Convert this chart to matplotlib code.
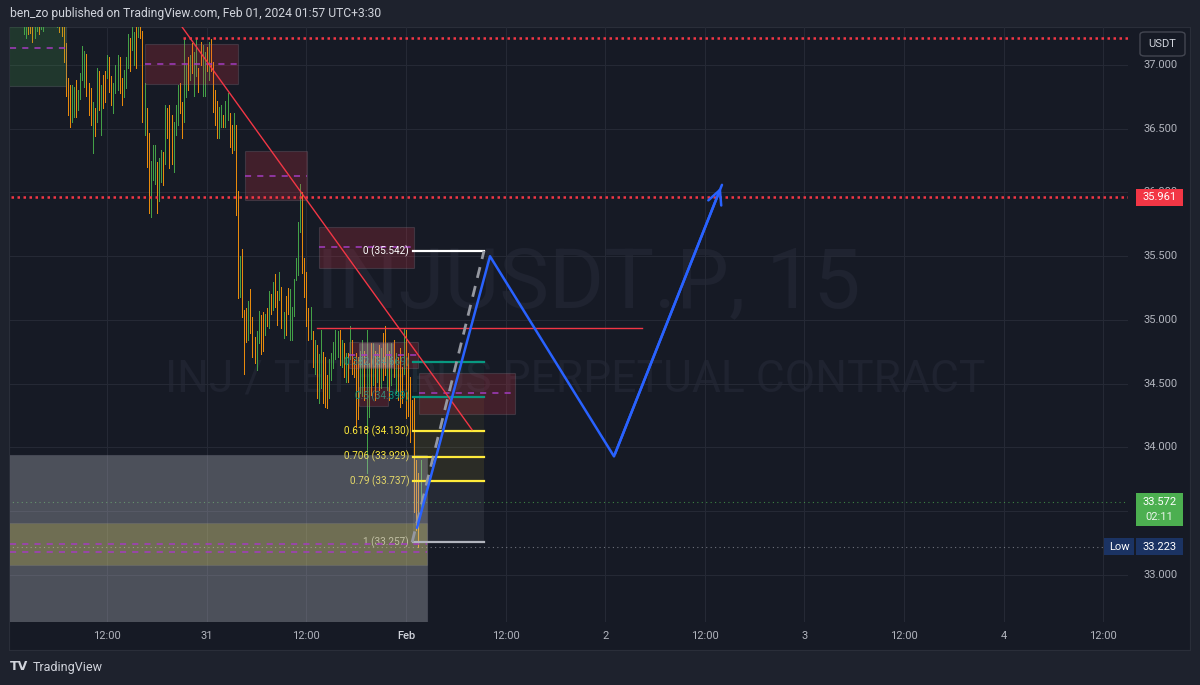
import matplotlib
matplotlib.use("Agg")
import matplotlib.pyplot as plt
import matplotlib.transforms as mtransforms
from matplotlib.patches import Rectangle, FancyBboxPatch

plt.rcParams['font.family'] = ['Roboto', 'DejaVu Sans']

# 15 minute bars, time in hours from Feb 01 00:00
bar_high = [37.50, 37.48, 37.52, 37.50, 37.46, 37.45, 37.47, 37.44, 37.42, 37.45,
            37.48, 37.46, 37.50, 37.47, 37.52, 37.55, 37.53, 37.50, 37.49, 37.51,
            37.48, 37.45, 37.40, 37.35, 37.17, 36.90, 36.84, 36.84, 36.83, 36.88,
            36.80, 36.94, 37.15, 37.11, 37.09, 36.86, 36.82, 36.71, 36.66, 36.98,
            36.95, 36.84, 36.92, 36.95, 37.08, 37.06, 36.91, 36.86, 37.00, 37.08,
            37.06, 36.90, 36.96, 37.06, 37.24, 37.21, 37.30, 37.26, 37.30, 37.38,
            37.36, 37.27, 36.86, 36.66, 36.47, 36.25, 36.37, 36.37, 36.24, 36.27,
            36.33, 36.32, 36.69, 36.66, 36.69, 36.61, 36.55, 36.69, 36.84, 36.86,
            36.71, 37.21, 37.00, 37.06, 37.08, 37.17, 37.10, 37.21, 36.98, 37.18,
            37.16, 37.10, 37.14, 37.18, 37.20, 37.02, 36.80, 36.72, 36.67, 36.69,
            36.61, 36.72, 36.78, 36.62, 36.53, 36.62, 36.53, 36.01, 35.50, 35.56,
            35.08, 35.09, 35.15, 35.24, 35.02, 34.87, 34.91, 35.07, 35.04, 35.06,
            35.05, 35.09, 35.23, 35.20, 35.30, 35.36, 35.23, 35.38, 35.26, 35.06,
            35.19, 35.25, 35.24, 35.10, 35.32, 35.49, 35.77, 36.07, 36.00, 35.49,
            35.38, 35.09, 35.10, 34.91, 34.84, 34.80, 34.73, 34.92, 34.75, 34.71,
            34.57, 34.69, 34.74, 34.83, 34.92, 34.91, 34.92, 34.84, 34.82, 34.74,
            34.74, 34.95, 34.84, 34.69, 34.74, 34.71, 34.76, 34.84, 34.76, 34.92,
            34.66, 34.82, 34.82, 34.76, 34.74, 34.80, 34.78, 34.90, 34.95, 34.82,
            34.76, 34.82, 34.84, 34.74, 34.71, 34.78, 34.63, 34.94, 34.92, 34.74,
            34.55, 34.37, 34.39, 33.90, 33.80, 33.90]
bar_low = [37.33, 37.32, 37.34, 37.31, 37.24, 37.21, 37.24, 37.25, 37.18, 37.21,
           37.27, 37.24, 37.28, 37.27, 37.33, 37.35, 37.34, 37.33, 37.32, 37.33,
           37.30, 37.26, 37.23, 37.02, 36.76, 36.61, 36.51, 36.55, 36.59, 36.59,
           36.65, 36.73, 36.88, 36.83, 36.76, 36.61, 36.53, 36.31, 36.44, 36.55,
           36.65, 36.45, 36.66, 36.71, 36.90, 36.79, 36.69, 36.62, 36.78, 36.80,
           36.78, 36.69, 36.75, 36.82, 36.98, 36.95, 37.12, 37.00, 36.98, 37.22,
           37.21, 36.55, 36.45, 36.20, 35.84, 35.81, 36.10, 36.07, 35.84, 35.93,
           36.08, 36.06, 36.22, 36.43, 36.19, 36.22, 36.16, 36.45, 36.53, 36.62,
           36.43, 36.55, 36.75, 36.80, 36.88, 36.94, 36.76, 36.91, 36.79, 37.00,
           36.76, 36.76, 36.95, 36.88, 36.95, 36.63, 36.53, 36.43, 36.43, 36.51,
           36.51, 36.51, 36.57, 36.36, 36.31, 36.33, 35.82, 35.17, 35.18, 35.02,
           34.58, 34.83, 34.84, 34.90, 34.71, 34.66, 34.61, 34.82, 34.73, 34.76,
           34.88, 34.95, 34.94, 35.05, 35.08, 35.10, 34.96, 35.16, 34.94, 34.86,
           34.88, 35.05, 34.84, 34.84, 35.03, 35.31, 35.35, 35.69, 35.37, 35.18,
           34.95, 34.84, 34.85, 34.63, 34.58, 34.39, 34.35, 34.47, 34.35, 34.32,
           34.31, 34.39, 34.53, 34.62, 34.69, 34.71, 34.65, 34.63, 34.55, 34.51,
           34.51, 34.69, 34.58, 34.55, 34.16, 34.22, 34.43, 34.40, 34.37, 33.80,
           34.24, 34.41, 34.49, 34.37, 34.51, 34.45, 34.47, 34.53, 34.57, 34.45,
           34.37, 34.49, 34.55, 34.43, 34.37, 34.32, 34.35, 34.58, 34.23, 34.25,
           34.04, 34.14, 33.49, 33.35, 33.22, 33.51]
bar_up = [1, 0, 1, 0, 1, 1, 0, 0, 0, 1, 1, 0, 1, 1, 0, 1, 0, 1, 0, 0,
          1, 0, 0, 0, 0, 0, 0, 1, 1, 0, 1, 1, 1, 1, 0, 0, 0, 1, 0, 1,
          0, 1, 0, 0, 1, 0, 0, 1, 1, 1, 0, 0, 1, 1, 1, 0, 1, 1, 0, 1,
          0, 0, 1, 0, 0, 1, 1, 1, 0, 1, 1, 0, 1, 0, 0, 0, 1, 1, 1, 0,
          0, 1, 1, 0, 1, 0, 1, 1, 0, 0, 1, 1, 0, 1, 0, 0, 0, 0, 1, 1,
          0, 1, 1, 0, 0, 1, 0, 0, 1, 0, 0, 0, 1, 0, 0, 0, 1, 1, 0, 0,
          1, 0, 1, 0, 1, 0, 0, 1, 0, 1, 0, 0, 1, 1, 1, 1, 1, 1, 0, 0,
          0, 0, 1, 0, 1, 0, 1, 1, 0, 0, 0, 1, 1, 1, 1, 1, 0, 1, 0, 1,
          0, 1, 0, 0, 0, 0, 1, 1, 0, 1, 1, 0, 1, 0, 1, 0, 1, 0, 0, 1,
          0, 1, 0, 1, 0, 0, 0, 1, 0, 0, 0, 0, 0, 0, 0, 1]
last_price = 33.572
low_price = 33.223
alert_price = 35.961

price_ticks = [33.0, 33.5, 34.0, 34.5, 35.0, 35.5, 36.0, 36.5, 37.0]
time_ticks = [-36, -24, -12, 0, 12, 24, 36, 48, 60, 72, 84]
time_labels = ["12:00", "31", "12:00", "Feb", "12:00", "2", "12:00", "3", "12:00", "4", "12:00"]

# zones drawn on the chart: start, end (hours), top, bottom, kind, midline
box_t0 = [-60, -31.45, -19.40, -10.48, -6.87, -5.66, 1.57, -5.66, -60, -60]
box_t1 = [-40.96, -20.24, -11.93, 0.96, 1.45, -2.17, 13.13, -1.57, 2.53, 2.53]
box_top = [37.43, 37.165, 36.325, 35.73, 34.827, 34.475, 34.584, 34.82, 33.941, 33.408]
box_bot = [36.835, 36.85, 35.94, 35.41, 34.624, 34.325, 34.263, 34.63, 32.42, 33.078]
box_kind = ["green", "red", "red", "red", "red", "red", "red", "grey", "grey", "olive"]
box_mid = [1, 1, 1, 1, 1, 0, 1, 0, 1, 1]
box_under_fib = [0, 0, 0, 1, 0, 0, 0, 0, 0, 0]

# fib retracement
fib_levels = ["0", "0.382", "0.5", "0.618", "0.706", "0.79", "1"]
fib_prices = [35.542, 34.669, 34.399, 34.130, 33.929, 33.737, 33.257]
fib_colors = ["#ffffff", "#089981", "#089981", "#ffeb3b", "#ffeb3b", "#ffeb3b", "#b2b5be"]
fib_t = [0.84, 9.40]

trend_t = [-27.0, 7.95]
trend_p = [37.30, 34.14]
level_t = [-10.72, 28.43]
level_p = 34.94
top_ray_t = -26.87
top_ray_p = 37.212
proj_t = [1.33, 10.12, 25.06, 38.07]
proj_p = [33.37, 35.50, 33.93, 36.06]

W, H = 1200, 685
BG = "#161a25"
GRID = "#252935"
TXT = "#b2b5be"

fig = plt.figure(figsize=(12, 6.85), dpi=100)
fig.patch.set_facecolor("#1e222d")

frame = fig.add_axes([9 / W, (H - 650) / H, 1181 / W, 623 / H])
frame.set_zorder(-2)
frame.set_facecolor(BG)
frame.set_xticks([])
frame.set_yticks([])
for s in frame.spines.values():
    s.set_color("#2a2e39")

ax = fig.add_axes([10 / W, (H - 622) / H, 1118 / W, 595 / H])
ax.set_facecolor("none")
ax.set_xlim(-47.71, 86.99)
ax.set_ylim(32.631, 37.298)
ax.set_xticks([])
ax.set_yticks([])
for s in ax.spines.values():
    s.set_visible(False)

tx = mtransforms.blended_transform_factory(ax.transData, ax.transAxes)
ty = mtransforms.blended_transform_factory(ax.transAxes, ax.transData)

# watermark (between the background frame and the chart)
wm1 = fig.text(588 / W, 1 - 284 / H, "INJUSDT.P, 15", ha="center", va="center",
               color="#1f2330", fontsize=60, zorder=-1)
wm2 = fig.text(575 / W, 1 - 380 / H, "INJ / TETHERUS PERPETUAL CONTRACT", ha="center",
               va="center", color="#1f2330", fontsize=30, zorder=-1)
fig.canvas.draw()
r = fig.canvas.get_renderer()
for t, target in [(wm1, 545), (wm2, 820)]:
    t.set_fontsize(t.get_fontsize() * target / t.get_window_extent(r).width)

# grid
for p in price_ticks:
    ax.axhline(p, color=GRID, lw=0.8, zorder=1)
for t in time_ticks:
    ax.axvline(t, color=GRID, lw=0.8, zorder=1)

# OHLC bars
bar_t = [(i - 188) * 0.25 for i in range(len(bar_high))]
ax.vlines(bar_t, bar_low, bar_high,
          colors=["#43a047" if u else "#e88a0c" for u in bar_up], lw=0.5,
          antialiased=False, zorder=2)

# fib zones, lines and labels
fills = [None, 0.05, 0.05, 0.09, 0.09, 0.1]
for i in range(1, len(fib_prices)):
    a = fills[i - 1]
    if a:
        ax.fill_between(fib_t, fib_prices[i], fib_prices[i - 1], color=fib_colors[i],
                        alpha=a, lw=0, zorder=2.5)
for lv, p, c in zip(fib_levels, fib_prices, fib_colors):
    ax.plot(fib_t, [p, p], color=c, lw=1.6, zorder=5)
    ax.text(fib_t[0] - 0.45, p, f"{lv} ({p:.3f})", color=c, fontsize=7.2,
            ha="right", va="center", zorder=3.5)

# boxes
fc = {"green": (0.30, 0.69, 0.31, 0.2), "red": (0.95, 0.21, 0.27, 0.2),
      "grey": (0.70, 0.71, 0.75, 0.35), "olive": (1.0, 0.92, 0.23, 0.2)}
for t0, t1, top, bot, k, m, u in zip(box_t0, box_t1, box_top, box_bot, box_kind,
                                      box_mid, box_under_fib):
    z = 3 if u else 4
    ax.add_patch(Rectangle((t0, bot), t1 - t0, top - bot, facecolor=fc[k],
                           edgecolor=(0.5, 0.5, 0.55, 0.25), lw=0.8, zorder=z))
    if m:
        mid = (top + bot) / 2
        ax.plot([max(t0, -47.71), t1], [mid, mid], color="#a43cc0", lw=1.1,
                dashes=(4, 4), zorder=z + 0.2)

# lines
ax.plot(trend_t, trend_p, color="#f23645", lw=1.0, zorder=5)
ax.plot(level_t, [level_p, level_p], color="#f23645", lw=1.0, zorder=5)
ax.plot([-60, 100], [alert_price, alert_price], color="#f23645", lw=1.8,
        dashes=(1, 1.4), zorder=5)
ax.plot([top_ray_t, 100], [top_ray_p, top_ray_p], color="#f23645", lw=1.8,
        dashes=(1, 1.4), zorder=5)
ax.plot([-60, 100], [last_price, last_price], color="#4caf50", lw=0.8,
        dashes=(1, 3), alpha=0.7, zorder=3)
ax.plot([-60, 100], [low_price, low_price], color="#9598a1", lw=0.8,
        dashes=(1, 3), alpha=0.7, zorder=3)
ax.plot([fib_t[0] - 0.1, fib_t[1]], [fib_prices[-1], fib_prices[0]], color="#9598a1",
        lw=2, dashes=(4, 3), zorder=5.5)

ax.plot(proj_t, proj_p, color="#2962ff", lw=1.8, zorder=6, solid_capstyle="round")
ax.annotate("", xy=(proj_t[-1], proj_p[-1]), xytext=(proj_t[-2], proj_p[-2]),
            arrowprops=dict(arrowstyle="->,head_length=1.0,head_width=0.5",
                            color="#2962ff", lw=1.8), zorder=6)

# price scale
for p in price_ticks:
    ax.text(1.0143, p, f"{p:.3f}", transform=ty, ha="left", va="center", color=TXT,
            fontsize=8, clip_on=False, zorder=7)

ppu = 595 / (37.298 - 32.631)


def tag(x0, x1, price, hpx, color, zorder=9):
    a0 = (x0 - 10) / 1118
    a1 = (x1 - 10) / 1118
    ax.add_patch(Rectangle((a0, price - hpx / 2 / ppu), a1 - a0, hpx / ppu, transform=ty,
                           facecolor=color, edgecolor="none", clip_on=False, zorder=zorder))
    return (a0 + a1) / 2


cx = tag(1136, 1183, alert_price, 17, "#f23645")
ax.text(cx, alert_price, f"{alert_price:.3f}", transform=ty, ha="center", va="center",
        color="white", fontsize=8, clip_on=False, zorder=10)
cx = tag(1136, 1183, last_price - 7.5 / ppu, 33, "#4caf50")
ax.text(cx, last_price, f"{last_price:.3f}", transform=ty, ha="center", va="center",
        color="white", fontsize=8, clip_on=False, zorder=10)
ax.text(cx, last_price - 15 / ppu, "02:11", transform=ty, ha="center", va="center",
        color="#e8f5e9", fontsize=8, clip_on=False, zorder=10)
cx = tag(1136, 1183, low_price, 17, "#1b3363")
ax.text(cx, low_price, f"{low_price:.3f}", transform=ty, ha="center", va="center",
        color="white", fontsize=8, clip_on=False, zorder=10)
cx = tag(1104, 1134, low_price, 17, "#1b3363")
ax.text(cx, low_price, "Low", transform=ty, ha="center", va="center",
        color="white", fontsize=8, clip_on=False, zorder=10)

# time scale
for t, lab in zip(time_ticks, time_labels):
    ax.text(t, -0.0235, lab, transform=tx, ha="center", va="center",
            color="#d1d4dc" if lab == "Feb" else TXT, fontsize=8,
            fontweight="medium" if lab == "Feb" else "normal", clip_on=False)

# header, footer, currency button
fig.text(10 / W, 1 - 13 / H, "ben_zo published on TradingView.com, Feb 01, 2024 01:57 UTC+3:30",
         color="#d1d4dc", fontsize=8.7, ha="left", va="center")
fig.text(10 / W, 1 - 667 / H, "TV", color="#d1d4dc", fontsize=9, fontweight="bold",
         ha="left", va="center", family="DejaVu Sans")
fig.text(33 / W, 1 - 667 / H, "TradingView", color="#d1d4dc", fontsize=9,
         ha="left", va="center")
fig.patches.append(FancyBboxPatch((1140 / W, 1 - 56 / H), 45 / W, 24 / H,
                                  boxstyle="round,pad=0,rounding_size=0.004",
                                  transform=fig.transFigure, facecolor="#161a25",
                                  edgecolor="#434651", lw=1, zorder=8))
fig.text(1162.5 / W, 1 - 44 / H, "USDT", color="#d1d4dc", fontsize=8,
         ha="center", va="center", zorder=9)

fig.savefig("out.png", dpi=100, facecolor=fig.get_facecolor())
